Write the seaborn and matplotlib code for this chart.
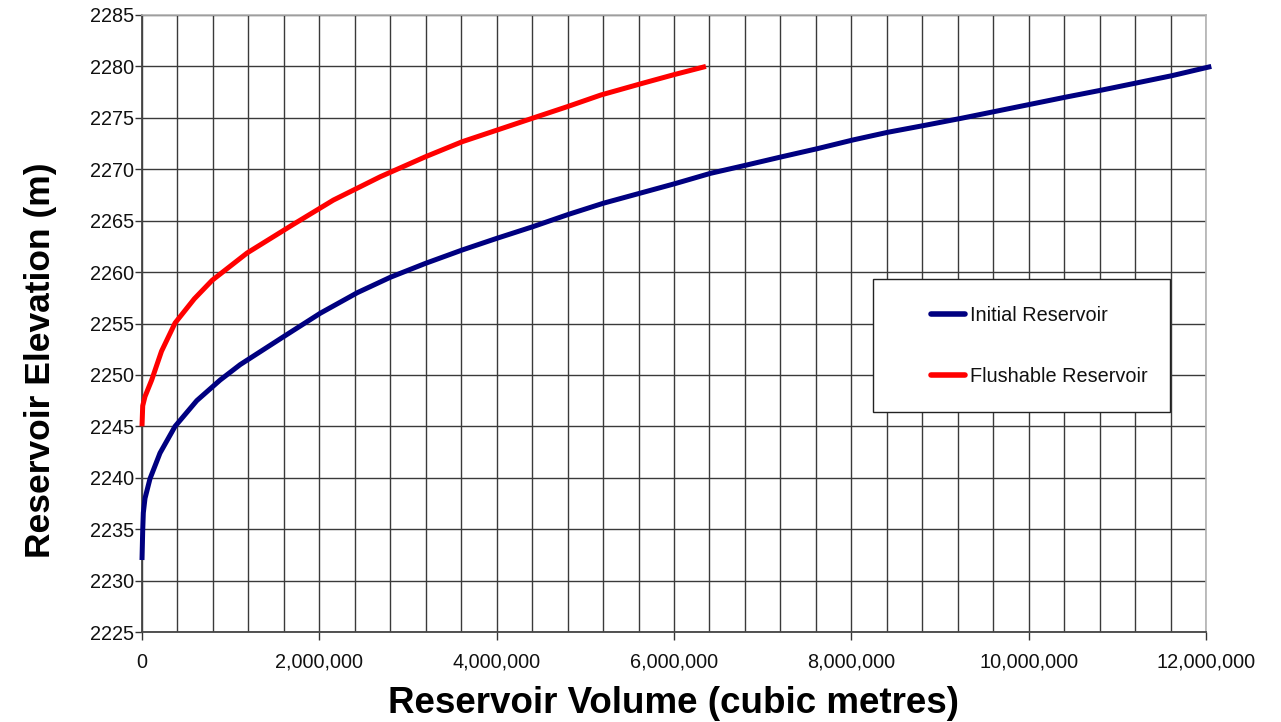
import numpy as np
import pandas as pd
import matplotlib
matplotlib.use("Agg")
import matplotlib.pyplot as plt
import seaborn as sns
from matplotlib.legend_handler import HandlerLine2D
from matplotlib.lines import Line2D
from matplotlib.ticker import MultipleLocator, FuncFormatter

# ---- data ----
initial_vol = [0, 8000, 15000, 34000, 90000, 203000, 373000, 618000, 881000, 1107000,
               1593000, 2011000, 2429000, 2802000, 3198000, 3612000, 4008000, 4403000,
               4806000, 5205000, 5608000, 6011000, 6410000, 6814000, 7209000, 7616000,
               8019000, 8414000, 8817000, 9243000, 10410000, 10825000, 11616000, 12060000]
initial_elev = [2232.0, 2234.9, 2236.6, 2238.0, 2239.9, 2242.4, 2245.0, 2247.5, 2249.5, 2251.0,
                2253.7, 2256.0, 2258.0, 2259.5, 2260.85, 2262.15, 2263.3, 2264.4,
                2265.6, 2266.7, 2267.65, 2268.6, 2269.6, 2270.4, 2271.2, 2272.0,
                2272.85, 2273.6, 2274.25, 2274.96, 2277.0, 2277.7, 2279.1, 2280.0]
flush_vol = [0, 8000, 34000, 109000, 220000, 373000, 590000, 791000, 1186000, 1695000,
             2158000, 2689000, 3198000, 3612000, 4008000, 4403000, 4798000, 5175000,
             5620000, 6000000, 6360000]
flush_elev = [2245.0, 2247.0, 2247.9, 2249.5, 2252.3, 2255.05, 2257.4, 2259.2, 2261.86, 2264.58,
              2267.0, 2269.28, 2271.22, 2272.68, 2273.82, 2274.96, 2276.09, 2277.22,
              2278.3, 2279.2, 2280.0]
series_names = ["Initial Reservoir", "Flushable Reservoir"]
series_colors = ["#000080", "#ff0000"]

df = pd.concat([
    pd.DataFrame({"volume": initial_vol, "elevation": initial_elev, "series": series_names[0]}),
    pd.DataFrame({"volume": flush_vol, "elevation": flush_elev, "series": series_names[1]}),
], ignore_index=True)

sns.set_theme(style="white")
plt.rcParams["font.family"] = ["Liberation Sans", "DejaVu Sans"]

fig = plt.figure(figsize=(12.81, 7.22), dpi=100)
ax = fig.add_axes([142/1281, 1-632/722, (1206-142)/1281, (632-15)/722])

sns.lineplot(data=df, x="volume", y="elevation", hue="series", hue_order=series_names,
             palette=series_colors, sort=False, estimator=None, linewidth=3.6,
             legend=False, ax=ax, clip_on=False, zorder=5)
for ln in ax.get_lines():
    ln.set_solid_joinstyle("round")
    ln.set_solid_capstyle("butt")

ax.set_xlim(0, 12_000_000)
ax.set_ylim(2225, 2285)
ax.xaxis.set_major_locator(MultipleLocator(2_000_000))
ax.xaxis.set_minor_locator(MultipleLocator(400_000))
ax.yaxis.set_major_locator(MultipleLocator(5))
ax.xaxis.set_major_formatter(FuncFormatter(lambda v, p: f"{int(round(v)):,}"))
ax.yaxis.set_major_formatter(FuncFormatter(lambda v, p: f"{int(round(v))}"))

ax.grid(True, which="both", axis="x", color="#3a3a3a", linewidth=1.0)
ax.grid(True, which="major", axis="y", color="#3a3a3a", linewidth=1.0)
ax.set_axisbelow(True)

ax.tick_params(axis="x", which="major", direction="out", length=6, width=1, color="#333333",
               pad=9, labelsize=14.3, labelcolor="#111111", bottom=True)
ax.tick_params(axis="x", which="minor", length=0)
ax.tick_params(axis="y", which="major", direction="out", length=5, width=1, color="#333333",
               pad=0.5, labelsize=14.3, labelcolor="#111111", left=True)

for side in ["left", "bottom"]:
    ax.spines[side].set_color("#444444")
    ax.spines[side].set_linewidth(1.3)
for side in ["top", "right"]:
    ax.spines[side].set_color("#b3b3b3")
    ax.spines[side].set_linewidth(1.2)

ax.set_xlabel("Reservoir Volume (cubic metres)", fontsize=26.5, fontweight="bold", color="#000000")
ax.set_ylabel("Reservoir Elevation (m)", fontsize=25.5, fontweight="bold", color="#000000")
ax.xaxis.set_label_coords(0.5, -0.087)
ax.yaxis.set_label_coords(-0.080, 0.44)


class ShiftedLine(HandlerLine2D):
    def get_xdata(self, legend, xdescent, ydescent, width, height, fontsize):
        x1 = -xdescent + width
        x0 = x1 - 1.75 * fontsize
        xd = np.array([x0, x1])
        return xd, xd


handles = [Line2D([], [], color=c, linewidth=4.0) for c in series_colors]
leg = ax.legend(handles, series_names, loc="upper left",
                bbox_to_anchor=(0.687, 0.352, 0.279, 0.220), mode="expand",
                fontsize=14.3, frameon=True, fancybox=False, framealpha=1,
                edgecolor="#222222", borderpad=1.35, labelspacing=2.1,
                handlelength=3.3, handletextpad=0.25, borderaxespad=0,
                handler_map={Line2D: ShiftedLine()})
leg.get_frame().set_linewidth(1.0)
for t in leg.get_texts():
    t.set_color("#111111")
leg.set_zorder(10)

fig.savefig("out.png", dpi=100, facecolor="white")
